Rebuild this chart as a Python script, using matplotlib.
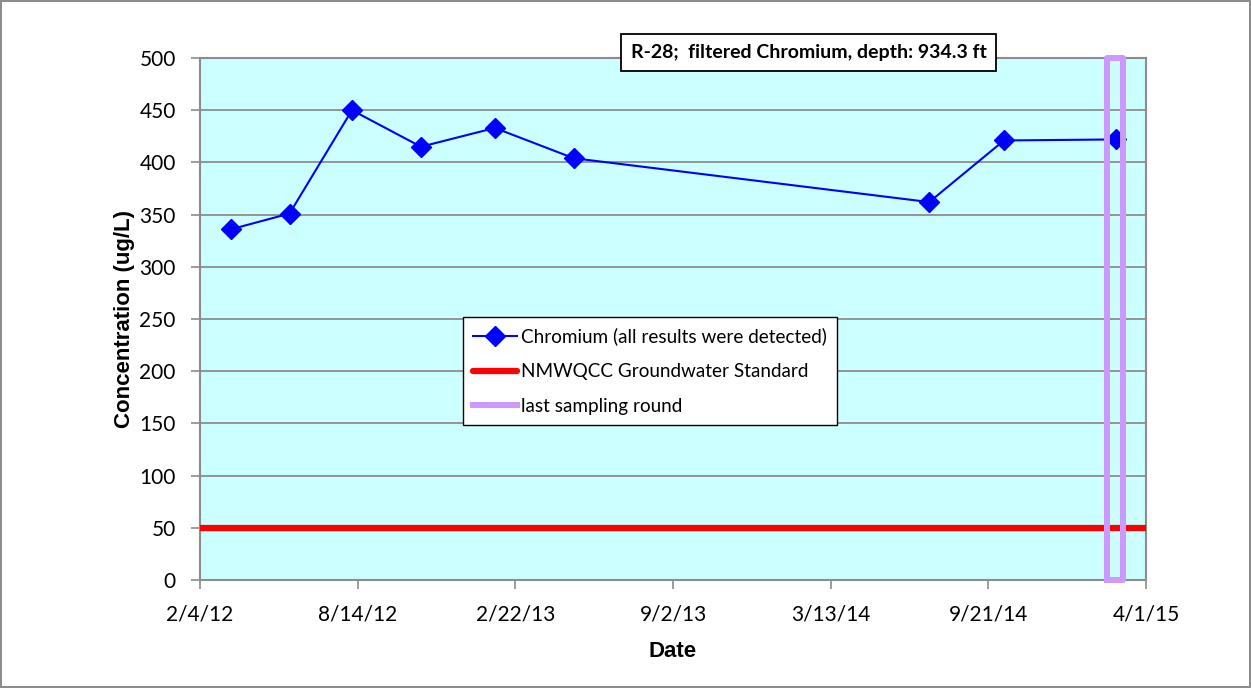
import matplotlib.pyplot as plt
import pandas as pd

# sample dates and chromium results (ug/L)
sample_dates = ['2012-03-13', '2012-05-23', '2012-08-07', '2012-10-30', '2013-01-28',
                '2013-05-04', '2014-07-11', '2014-10-10', '2015-02-24']
chromium = [336, 351, 450, 415, 433, 404, 362, 421, 422]

# NMWQCC standard line
std_dates = ['2012-02-04', '2015-04-01']
std_value = [50, 50]

# last sampling round box
last_round_dates = ['2015-02-12', '2015-03-04']
last_round_range = [0, 500]

tick_dates = ['2012-02-04', '2012-08-14', '2013-02-22', '2013-09-02',
              '2014-03-13', '2014-09-21', '2015-04-01']
tick_labels = ['2/4/12', '8/14/12', '2/22/13', '9/2/13', '3/13/14', '9/21/14', '4/1/15']
y_ticks = [0, 50, 100, 150, 200, 250, 300, 350, 400, 450, 500]

sd = pd.to_datetime(sample_dates)
stdd = pd.to_datetime(std_dates)
lr = pd.to_datetime(last_round_dates)
td = pd.to_datetime(tick_dates)

tick_font = 'Lato'
label_font = 'Liberation Sans'

fig = plt.figure(figsize=(12.51, 6.88), dpi=100)
fig.patch.set_edgecolor('#8c8c8c')
fig.patch.set_linewidth(1.5)
ax = fig.add_axes([0.1599, 0.157, 0.7562, 0.7587])
ax.set_facecolor('#CCFFFF')

ax.plot(sd, chromium, color='#0000FF', marker='D', markersize=10.5, linewidth=1.5,
        label='Chromium (all results were detected)', zorder=4)
ax.plot(stdd, std_value, color='#FF0000', linewidth=4.5, solid_capstyle='round',
        label='NMWQCC Groundwater Standard', zorder=3)
ax.plot([lr[0], lr[0], lr[1], lr[1], lr[0]],
        [last_round_range[0], last_round_range[1], last_round_range[1],
         last_round_range[0], last_round_range[0]],
        color='#CC99FF', linewidth=4.3, label='last sampling round', zorder=5,
        clip_on=False)

ax.set_xlim(stdd[0], stdd[1])
ax.set_ylim(0, 500)
ax.set_xticks(td)
ax.set_xticklabels(tick_labels, fontfamily=tick_font, fontsize=15)
ax.set_yticks(y_ticks)
ax.set_yticklabels([str(v) for v in y_ticks], fontfamily=tick_font, fontsize=15)
ax.tick_params(axis='both', direction='out', length=6.5, width=1.2, color='#8c8c8c')
ax.tick_params(axis='x', pad=11)
ax.tick_params(axis='y', pad=11)

ax.grid(axis='y', color='#8c8c8c', linewidth=1.3, zorder=1)
ax.set_axisbelow(True)
for s in ax.spines.values():
    s.set_color('#8c8c8c')
    s.set_linewidth(1.5)

ax.set_xlabel('Date', fontfamily=label_font, fontweight='bold', fontsize=16, labelpad=12)
ax.set_ylabel('Concentration (ug/L)', fontfamily=label_font, fontweight='bold', fontsize=16, labelpad=3)

leg = ax.legend(loc='upper left', bbox_to_anchor=(0.278, 0.504), borderaxespad=0,
                fancybox=False, edgecolor='black', framealpha=1, handlelength=2.3,
                handletextpad=0.2, labelspacing=0.95, borderpad=0.55,
                prop={'family': tick_font, 'size': 13.6})
leg.get_frame().set_linewidth(1.0)

ax.text(0.6465, 0.924, 'R-28;  filtered Chromium, depth: 934.3 ft', transform=fig.transFigure,
        ha='center', va='center', fontfamily=tick_font, fontweight='bold', fontsize=14,
        bbox=dict(boxstyle='square,pad=0.5', facecolor='white', edgecolor='black', linewidth=1.3),
        zorder=10)

plt.savefig('out.png', dpi=100)
plt.close()
